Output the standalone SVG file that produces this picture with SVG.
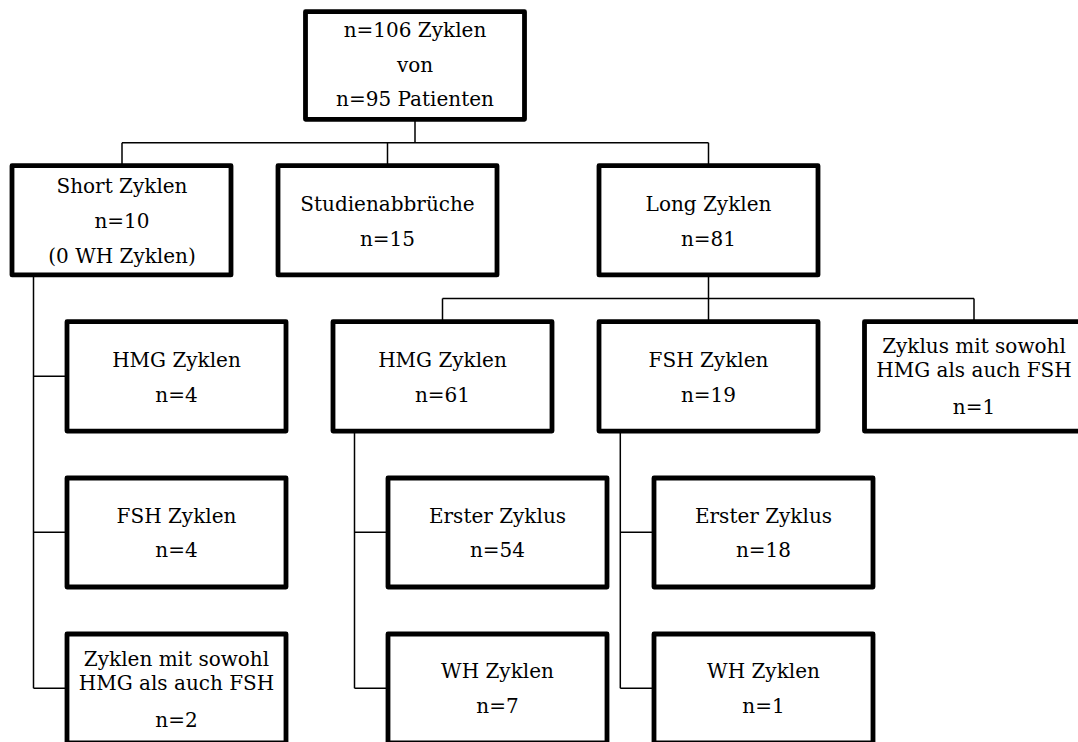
<svg xmlns="http://www.w3.org/2000/svg" width="1078" height="742" viewBox="0 0 1078 742">
<style>
.box{fill:#fff;stroke:#000;stroke-width:4.8;stroke-linejoin:round}
.con{fill:none;stroke:#000;stroke-width:1.5}
text{font-family:"DejaVu Serif","Liberation Serif",serif;font-size:20px;fill:#000;text-anchor:middle}
</style>
<rect width="1078" height="742" fill="#fff"/>
<g id="connectors">
<path class="con" d="M415 119V142.7M122 142.7H708.5M122 142.7V166M387.5 142.7V166M708.5 142.7V166"/>
<path class="con" d="M708.5 275V322M442.5 298.5H974M442.5 298.5V322M974 298.5V322"/>
<path class="con" d="M33.5 275V688.3M33.5 376.3H67M33.5 532.3H67M33.5 688.3H67"/>
<path class="con" d="M354.5 431V688.3M354.5 532.3H388M354.5 688.3H388"/>
<path class="con" d="M620.3 431V688.3M620.3 532.3H654M620.3 688.3H654"/>
</g>
<g id="root"><rect class="box" x="305.5" y="11.7" width="219" height="107.6"/>
<text x="415" y="36.7">n=106 Zyklen</text><text x="415" y="71.7">von</text><text x="415" y="106">n=95 Patienten</text></g>
<g id="short"><rect class="box" x="12" y="165.7" width="219" height="109.2"/>
<text x="122" y="193.3">Short Zyklen</text><text x="122" y="228.3">n=10</text><text x="122" y="263.3">(0 WH Zyklen)</text></g>
<g id="abbruch"><rect class="box" x="278" y="165.7" width="219" height="109.2"/>
<text x="387.5" y="211">Studienabbrüche</text><text x="387.5" y="246">n=15</text></g>
<g id="long"><rect class="box" x="599" y="165.7" width="219" height="109.2"/>
<text x="708.5" y="211">Long Zyklen</text><text x="708.5" y="246">n=81</text></g>
<g id="short-hmg"><rect class="box" x="67" y="321.7" width="219" height="109.4"/>
<text x="176.5" y="366.7">HMG Zyklen</text><text x="176.5" y="401.7">n=4</text></g>
<g id="short-fsh"><rect class="box" x="67" y="478" width="219" height="109"/>
<text x="176.5" y="522.7">FSH Zyklen</text><text x="176.5" y="557.3">n=4</text></g>
<g id="short-both"><rect class="box" x="67" y="634" width="219" height="109"/>
<text x="176.5" y="666">Zyklen mit sowohl</text><text x="176.5" y="690">HMG als auch FSH</text><text x="176.5" y="726.7">n=2</text></g>
<g id="long-hmg"><rect class="box" x="333" y="321.7" width="219" height="109.4"/>
<text x="442.5" y="366.7">HMG Zyklen</text><text x="442.5" y="401.7">n=61</text></g>
<g id="long-fsh"><rect class="box" x="599" y="321.7" width="219" height="109.4"/>
<text x="708.5" y="366.7">FSH Zyklen</text><text x="708.5" y="401.7">n=19</text></g>
<g id="long-both"><rect class="box" x="864.5" y="321.7" width="219" height="109.4"/>
<text x="974" y="353.3">Zyklus mit sowohl</text><text x="974" y="377.3">HMG als auch FSH</text><text x="974" y="414">n=1</text></g>
<g id="hmg-erster"><rect class="box" x="388" y="478" width="219" height="109"/>
<text x="497.5" y="522.7">Erster Zyklus</text><text x="497.5" y="557.3">n=54</text></g>
<g id="hmg-wh"><rect class="box" x="388" y="634" width="219" height="109"/>
<text x="497.5" y="678.3">WH Zyklen</text><text x="497.5" y="713.3">n=7</text></g>
<g id="fsh-erster"><rect class="box" x="654" y="478" width="219" height="109"/>
<text x="763.5" y="522.7">Erster Zyklus</text><text x="763.5" y="557.3">n=18</text></g>
<g id="fsh-wh"><rect class="box" x="654" y="634" width="219" height="109"/>
<text x="763.5" y="678.3">WH Zyklen</text><text x="763.5" y="713.3">n=1</text></g>
</svg>
